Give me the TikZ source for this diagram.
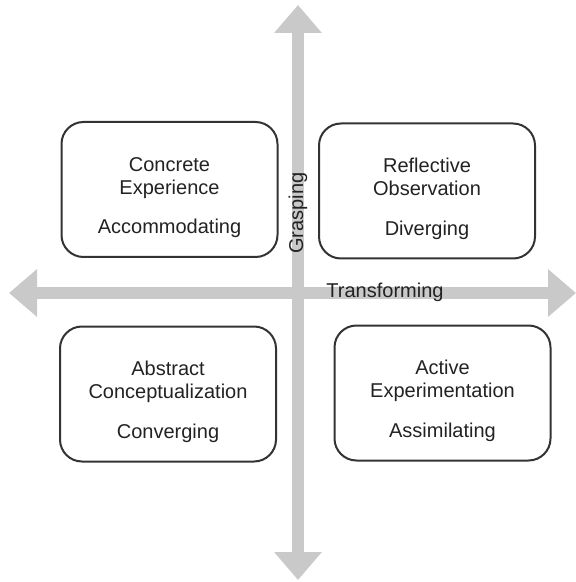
\documentclass[tikz,border=0pt]{standalone}
\usepackage{fontspec}
\setmainfont{Liberation Sans}
\usetikzlibrary{arrows.meta}

\definecolor{axisgray}{HTML}{C9C9C9}
\definecolor{boxline}{HTML}{333333}
\definecolor{inktext}{HTML}{222222}

% two-line mode name, then the learning style below it
\newcommand{\modetext}[3]{\rule{0pt}{15pt}#1\\#2\\[8pt]#3}

\tikzset{
  modebox/.style={draw=boxline, line width=1pt, rounded corners=11pt,
    minimum width=108pt, minimum height=67.5pt, align=center, text=inktext,
    font=\fontsize{10}{11.7}\selectfont},
  axis/.style={draw=axisgray, line width=6pt,
    {Triangle[width=23pt,length=14pt]}-{Triangle[width=23pt,length=14pt]}},
  axislabel/.style={text=inktext, font=\fontsize{10}{12}\selectfont, inner sep=0pt}
}

\begin{document}
\begin{tikzpicture}[x=0.5pt, y=-0.5pt]
\useasboundingbox (0,0) rectangle (576,582);

% Axes
\coordinate (top) at (298,5);
\coordinate (bottom) at (298,580);
\coordinate (left) at (9,293);
\coordinate (right) at (576,293);
\draw[axis] (left) -- (right);
\draw[axis] (top) -- (bottom);

% Axis labels
\node (grasping) [axislabel, rotate=90] at (298,213) {Grasping};
\node (transforming) [axislabel] at (385,292) {Transforming};

% Nodes
\node (concrete) [modebox] at (169.5,189.5) {\modetext{Concrete}{Experience}{Accommodating}};
\node (reflective) [modebox] at (427,191) {\modetext{Reflective}{Observation}{Diverging}};
\node (abstract) [modebox] at (168,394) {\modetext{Abstract}{Conceptualization}{Converging}};
\node (active) [modebox] at (442.5,393) {\modetext{Active}{Experimentation}{Assimilating}};

\end{tikzpicture}
\end{document}
